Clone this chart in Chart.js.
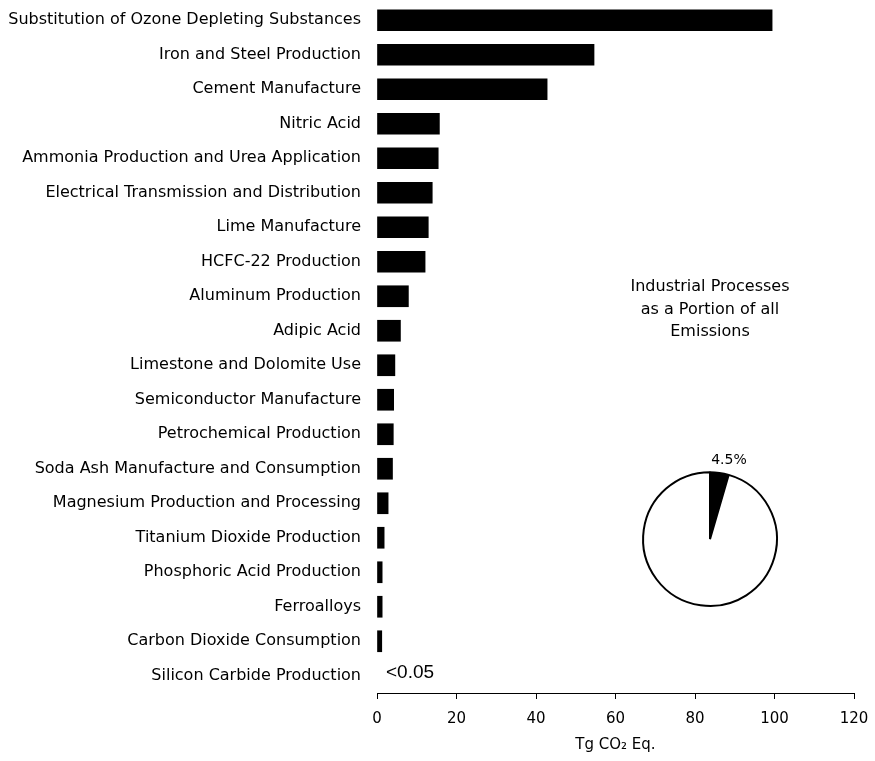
<!DOCTYPE html>
<html>
<head>
<meta charset="utf-8">
<script src="https://cdn.jsdelivr.net/npm/chart.js@4.4.1/dist/chart.umd.min.js"></script>
<style>
  html, body { margin: 0; padding: 0; background: #fff; }
  #wrap { position: relative; width: 875px; height: 761px; }
  #barChart { position: absolute; left: 0; top: 0; }
  #pieChart { position: absolute; left: 580px; top: 270px; }
</style>
</head>
<body>
<div id="wrap">
  <canvas id="barChart" width="875" height="761"></canvas>
  <canvas id="pieChart" width="260" height="345"></canvas>
</div>
<script>
const categories = [
  'Substitution of Ozone Depleting Substances',
  'Iron and Steel Production',
  'Cement Manufacture',
  'Nitric Acid',
  'Ammonia Production and Urea Application',
  'Electrical Transmission and Distribution',
  'Lime Manufacture',
  'HCFC-22 Production',
  'Aluminum Production',
  'Adipic Acid',
  'Limestone and Dolomite Use',
  'Semiconductor Manufacture',
  'Petrochemical Production',
  'Soda Ash Manufacture and Consumption',
  'Magnesium Production and Processing',
  'Titanium Dioxide Production',
  'Phosphoric Acid Production',
  'Ferroalloys',
  'Carbon Dioxide Consumption',
  'Silicon Carbide Production'
];

const emissions = [99.4, 54.6, 42.8, 15.7, 15.4, 13.9, 12.9, 12.1, 7.9, 5.9,
                   4.5, 4.2, 4.1, 3.9, 2.8, 1.8, 1.3, 1.3, 1.2, 0];

// text shown beside bars too small to draw
const smallValueNotes = ['', '', '', '', '', '', '', '', '', '',
                         '', '', '', '', '', '', '', '', '', '<0.05'];

const xTicks = [0, 20, 40, 60, 80, 100, 120];

const pieLabels = ['Industrial Processes', 'All Other Emissions'];
const pieShares = [4.5, 95.5];
const pieTitle = ['Industrial Processes', 'as a Portion of all', 'Emissions'];

const labelFont = "'DejaVu Sans', Verdana, sans-serif";

const notesPlugin = {
  id: 'notes',
  afterDatasetsDraw(chart) {
    const { ctx, scales: { x, y } } = chart;
    ctx.save();
    ctx.font = "19px 'Liberation Sans', Arial, sans-serif";
    ctx.fillStyle = '#000';
    ctx.textBaseline = 'middle';
    ctx.textAlign = 'left';
    smallValueNotes.forEach((note, i) => {
      if (!note) return;
      ctx.fillText(note, x.getPixelForValue(emissions[i]) + 9, y.getPixelForValue(i) - 3);
    });
    ctx.restore();
  }
};

new Chart(document.getElementById('barChart'), {
  type: 'bar',
  data: {
    labels: categories,
    datasets: [{
      data: emissions,
      backgroundColor: emissions.map(v => (v > 0 ? '#000' : 'rgba(0,0,0,0)')),
      borderWidth: 0,
      barThickness: 21
    }]
  },
  options: {
    indexAxis: 'y',
    responsive: false,
    animation: false,
    layout: { padding: { top: 3, right: 21, bottom: 0, left: 0 } },
    plugins: {
      legend: { display: false },
      tooltip: { enabled: false }
    },
    scales: {
      x: {
        min: 0,
        max: 120,
        afterBuildTicks: scale => { scale.ticks = xTicks.map(v => ({ value: v })); },
        afterFit: scale => {
          scale.height = 68;
          scale.paddingLeft = 0;
          scale.paddingRight = 0;
        },
        grid: { display: true, drawOnChartArea: false, drawTicks: true, tickLength: 6, color: '#000', lineWidth: 1 },
        border: { display: true, color: '#000', width: 1 },
        ticks: { color: '#000', font: { family: labelFont, size: 15 }, padding: 11, maxRotation: 0 },
        title: {
          display: true,
          text: 'Tg CO\u2082 Eq.',
          color: '#000',
          font: { family: labelFont, size: 15 },
          padding: { top: 0, bottom: 7 }
        }
      },
      y: {
        afterFit: scale => {
          scale.width = 377;
          scale.paddingTop = 0;
          scale.paddingBottom = 0;
        },
        grid: { display: false, drawTicks: false },
        border: { display: false },
        ticks: { color: '#000', font: { family: labelFont, size: 16 }, padding: 16, autoSkip: false }
      }
    }
  },
  plugins: [notesPlugin]
});

const pieValueLabel = {
  id: 'pieValueLabel',
  afterDatasetsDraw(chart) {
    const { ctx } = chart;
    const arc = chart.getDatasetMeta(0).data[0];
    const mid = (arc.startAngle + arc.endAngle) / 2;
    const r = arc.outerRadius + 11;
    ctx.save();
    ctx.font = "14px " + labelFont;
    ctx.fillStyle = '#000';
    ctx.textAlign = 'center';
    ctx.textBaseline = 'middle';
    ctx.fillText(pieShares[0] + '%', arc.x + Math.cos(mid) * r + 8, arc.y + Math.sin(mid) * r - 2);
    ctx.restore();
  }
};

new Chart(document.getElementById('pieChart'), {
  type: 'pie',
  data: {
    labels: pieLabels,
    datasets: [{
      data: pieShares,
      backgroundColor: ['#000', '#fff'],
      borderColor: '#000',
      borderWidth: 2
    }]
  },
  options: {
    responsive: false,
    animation: false,
    layout: { padding: { top: 0, bottom: 8, left: 0, right: 0 } },
    plugins: {
      legend: { display: false },
      tooltip: { enabled: false },
      title: {
        display: true,
        text: pieTitle,
        color: '#000',
        font: { family: labelFont, size: 16, weight: 'normal', lineHeight: 1.4 },
        padding: { top: 6, bottom: 128 }
      }
    }
  },
  plugins: [pieValueLabel]
});
</script>
</body>
</html>
